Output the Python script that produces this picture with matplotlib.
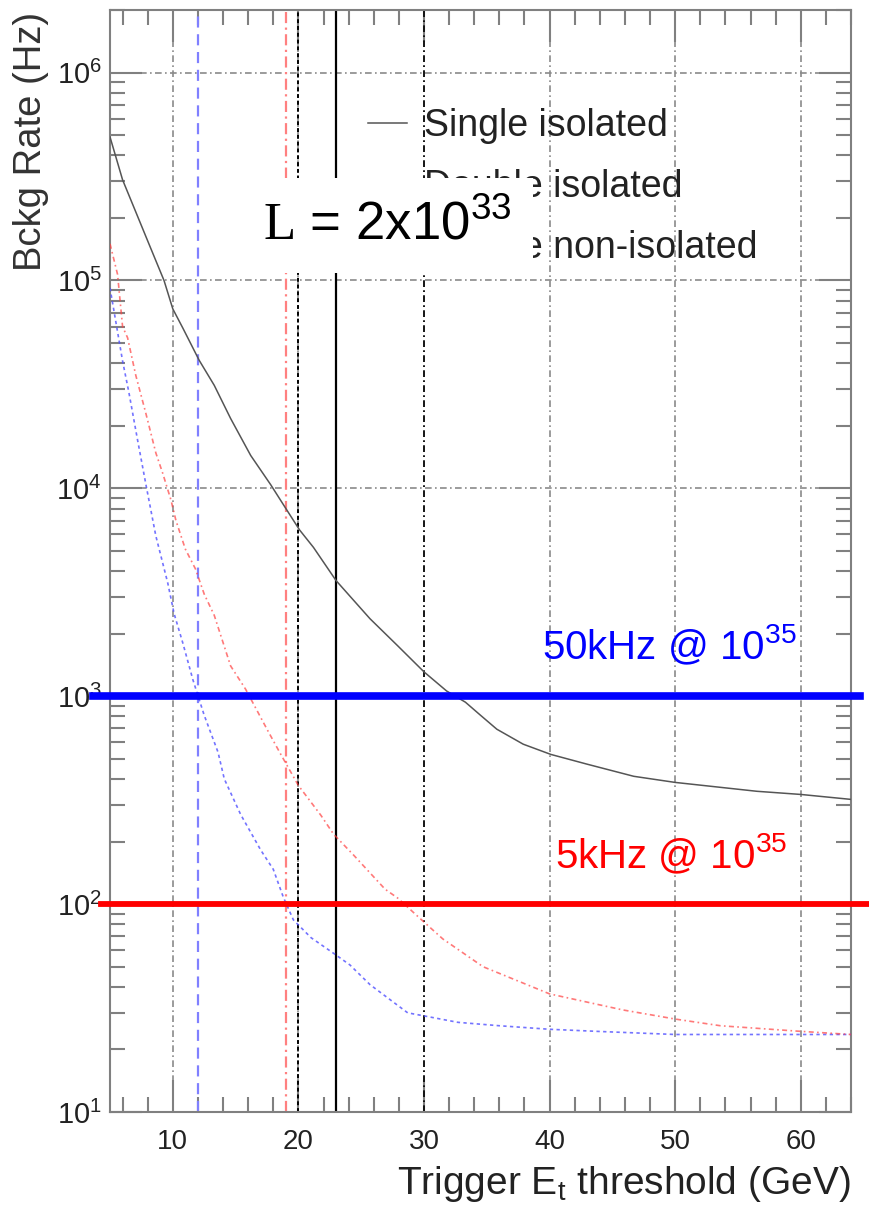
import matplotlib
matplotlib.use("Agg")
import matplotlib.pyplot as plt
from matplotlib.ticker import MultipleLocator, LogLocator, NullFormatter

# Trigger background rates vs. Et threshold
single_x = [5, 6, 8, 9.3, 10, 10.8, 12.1, 13.3, 14.6, 16.2, 17.8, 19, 20.1,
            21.2, 23, 25.7, 27.9, 30, 31.8, 33.3, 34.5, 35.8, 37.9, 40.1, 43,
            46.7, 50, 56.5, 60, 64]
single_y = [4.9e5, 3.05e5, 1.55e5, 1.0e5, 7.3e4, 5.9e4, 4.13e4, 3.13e4, 2.17e4,
            1.44e4, 1.04e4, 8.0e3, 6.3e3, 5.2e3, 3.6e3, 2.36e3, 1.75e3, 1.31e3,
            1.06e3, 936, 810, 694, 588, 525, 471, 412, 385, 349, 337, 319]

dbl_iso_x = [5, 6, 6.5, 7.2, 7.85, 8.65, 9.6, 10.1, 10.8, 11.6, 12.5, 13.6,
             14.1, 15.4, 17, 18, 18.8, 19.6, 21, 22.8, 24.1, 25.7, 28.7, 30,
             32.7, 36, 40, 44, 50, 60, 64]
dbl_iso_y = [9.2e4, 4.1e4, 2.9e4, 1.7e4, 1.05e4, 5.9e3, 3.5e3, 2.5e3, 1.8e3,
             1.2e3, 810, 538, 400, 270, 182, 147, 108, 84, 69, 58, 51, 41, 30,
             29, 27, 26, 25, 24.4, 23.6, 23.6, 23.6]

dbl_noniso_x = [5, 5.6, 6.0, 6.4, 7.05, 7.85, 8.65, 9.2, 9.85, 10.25, 11, 11.8,
                12.5, 13.3, 14.6, 15.8, 17.55, 18.6, 20, 21.8, 22.8, 24.4, 26.9,
                27.9, 30, 31.5, 34.7, 40, 45.8, 50, 53.6, 59.7, 64]
dbl_noniso_y = [1.5e5, 1.07e5, 6e4, 5.3e4, 3.5e4, 2.3e4, 1.48e4, 1.18e4, 8.8e3,
                7e3, 5.1e3, 4.1e3, 3.1e3, 2.45e3, 1.4e3, 1.08e3, 685, 525, 372,
                267, 217, 172, 118, 107, 82, 68, 50, 37, 31, 28, 26, 24.5, 23.6]

labels = ["Single isolated", "Double isolated", "Double non-isolated"]

# vertical threshold markers and horizontal rate limits
thr_x = [12, 19, 20, 23, 30]
rate_limits = [1e3, 1e2]
rate_labels = ["50kHz @ 10$^{35}$", "5kHz @ 10$^{35}$"]

plt.rcParams["font.family"] = ["Liberation Sans", "DejaVu Sans"]
plt.rcParams["mathtext.fontset"] = "custom"
plt.rcParams["mathtext.rm"] = "Liberation Sans"
plt.rcParams["mathtext.it"] = "Liberation Sans:italic"
plt.rcParams["mathtext.sf"] = "Liberation Serif"

fig = plt.figure(figsize=(8.69, 12.07), dpi=100)
ax = fig.add_axes([0.1266, 0.0787, 0.8527, 0.913])

ax.set_yscale("log")
ax.set_xlim(5, 64)
ax.set_ylim(10, 2e6)

grid_ls = (0, (4, 2, 1, 2))
ax.grid(True, which="major", color="#8a8a8a", linestyle=grid_ls, lw=1.2)
ax.set_axisbelow(True)

# threshold lines
thr_styles = [
    dict(color="#8080ff", ls=(0, (5, 3)), lw=1.6),
    dict(color="#ff8080", ls=(0, (5, 2, 1, 2)), lw=1.6),
    dict(color="black", ls=(0, (2, 1.5)), lw=1.4),
    dict(color="black", ls="-", lw=1.6),
    dict(color="black", ls=(0, (4, 2, 1, 2)), lw=1.2),
]
for xv, st in zip(thr_x, thr_styles):
    ax.axvline(xv, zorder=2, **st)

l1, = ax.plot(single_x, single_y, color="#555555", lw=1.1, label=labels[0], zorder=3)
l2, = ax.plot(dbl_iso_x, dbl_iso_y, color="#5050ff", lw=1.2, ls=(0, (2, 2)),
              alpha=0.8, label=labels[1], zorder=3)
l3, = ax.plot(dbl_noniso_x, dbl_noniso_y, color="#ff4040", lw=1.2,
              ls=(0, (3, 2, 1, 2)), alpha=0.7, label=labels[2], zorder=3)

# rate limits, running slightly past the frame
ax.axhline(rate_limits[0], xmin=-0.023, xmax=1.012, color="#0000ff", lw=5.5,
           clip_on=False, zorder=4)
ax.axhline(rate_limits[1], xmin=-0.012, xmax=1.03, color="#ff0000", lw=4.2,
           clip_on=False, zorder=4)
ax.text(39.4, 1507, rate_labels[0], color="#0000ff", fontsize=29, va="baseline")
ax.text(40.4, 149, rate_labels[1], color="#ff0000", fontsize=29, va="baseline")

leg = ax.legend(handles=[l1, l2, l3], loc="upper left",
                bbox_to_anchor=(0.348, 0.911), frameon=False, fontsize=27,
                handlelength=1.05, handletextpad=0.45, labelspacing=0.66,
                borderpad=0, borderaxespad=0)
for t in leg.get_texts():
    t.set_color("#222222")

# luminosity tag, its white box hides part of the legend as in the original
ax.text(17.15, 1.57e5, r"$\mathsf{L}$ = 2x10$^{33}$", fontsize=38,
        va="baseline", zorder=10,
        bbox=dict(boxstyle="square,pad=0.42", fc="white", ec="none"))

# axes cosmetics
for sp in ax.spines.values():
    sp.set_color("#808080")
    sp.set_linewidth(1.5)

ax.xaxis.set_major_locator(MultipleLocator(10))
ax.xaxis.set_minor_locator(MultipleLocator(2))
ax.yaxis.set_major_locator(LogLocator(base=10))
ax.yaxis.set_minor_locator(LogLocator(base=10, subs=range(2, 10)))
ax.yaxis.set_minor_formatter(NullFormatter())

ax.tick_params(which="both", direction="in", top=True, right=True,
               color="#808080", width=1.5, labelcolor="#222222")
ax.tick_params(which="major", length=23)
ax.tick_params(which="minor", length=10.5)
ax.tick_params(axis="x", labelsize=20, pad=12)
ax.tick_params(axis="y", labelsize=21, pad=6)

ax.set_ylabel("Bckg Rate (Hz)", fontsize=27.5, color="#333333", loc="top")
ax.yaxis.set_label_coords(-0.083, 0.998)
ax.set_xlabel("Trigger E$_{\\rm t}$ threshold (GeV)", fontsize=28,
              color="#222222", loc="right")
ax.xaxis.set_label_coords(1.0, -0.047)

fig.savefig("out.png", dpi=100)
